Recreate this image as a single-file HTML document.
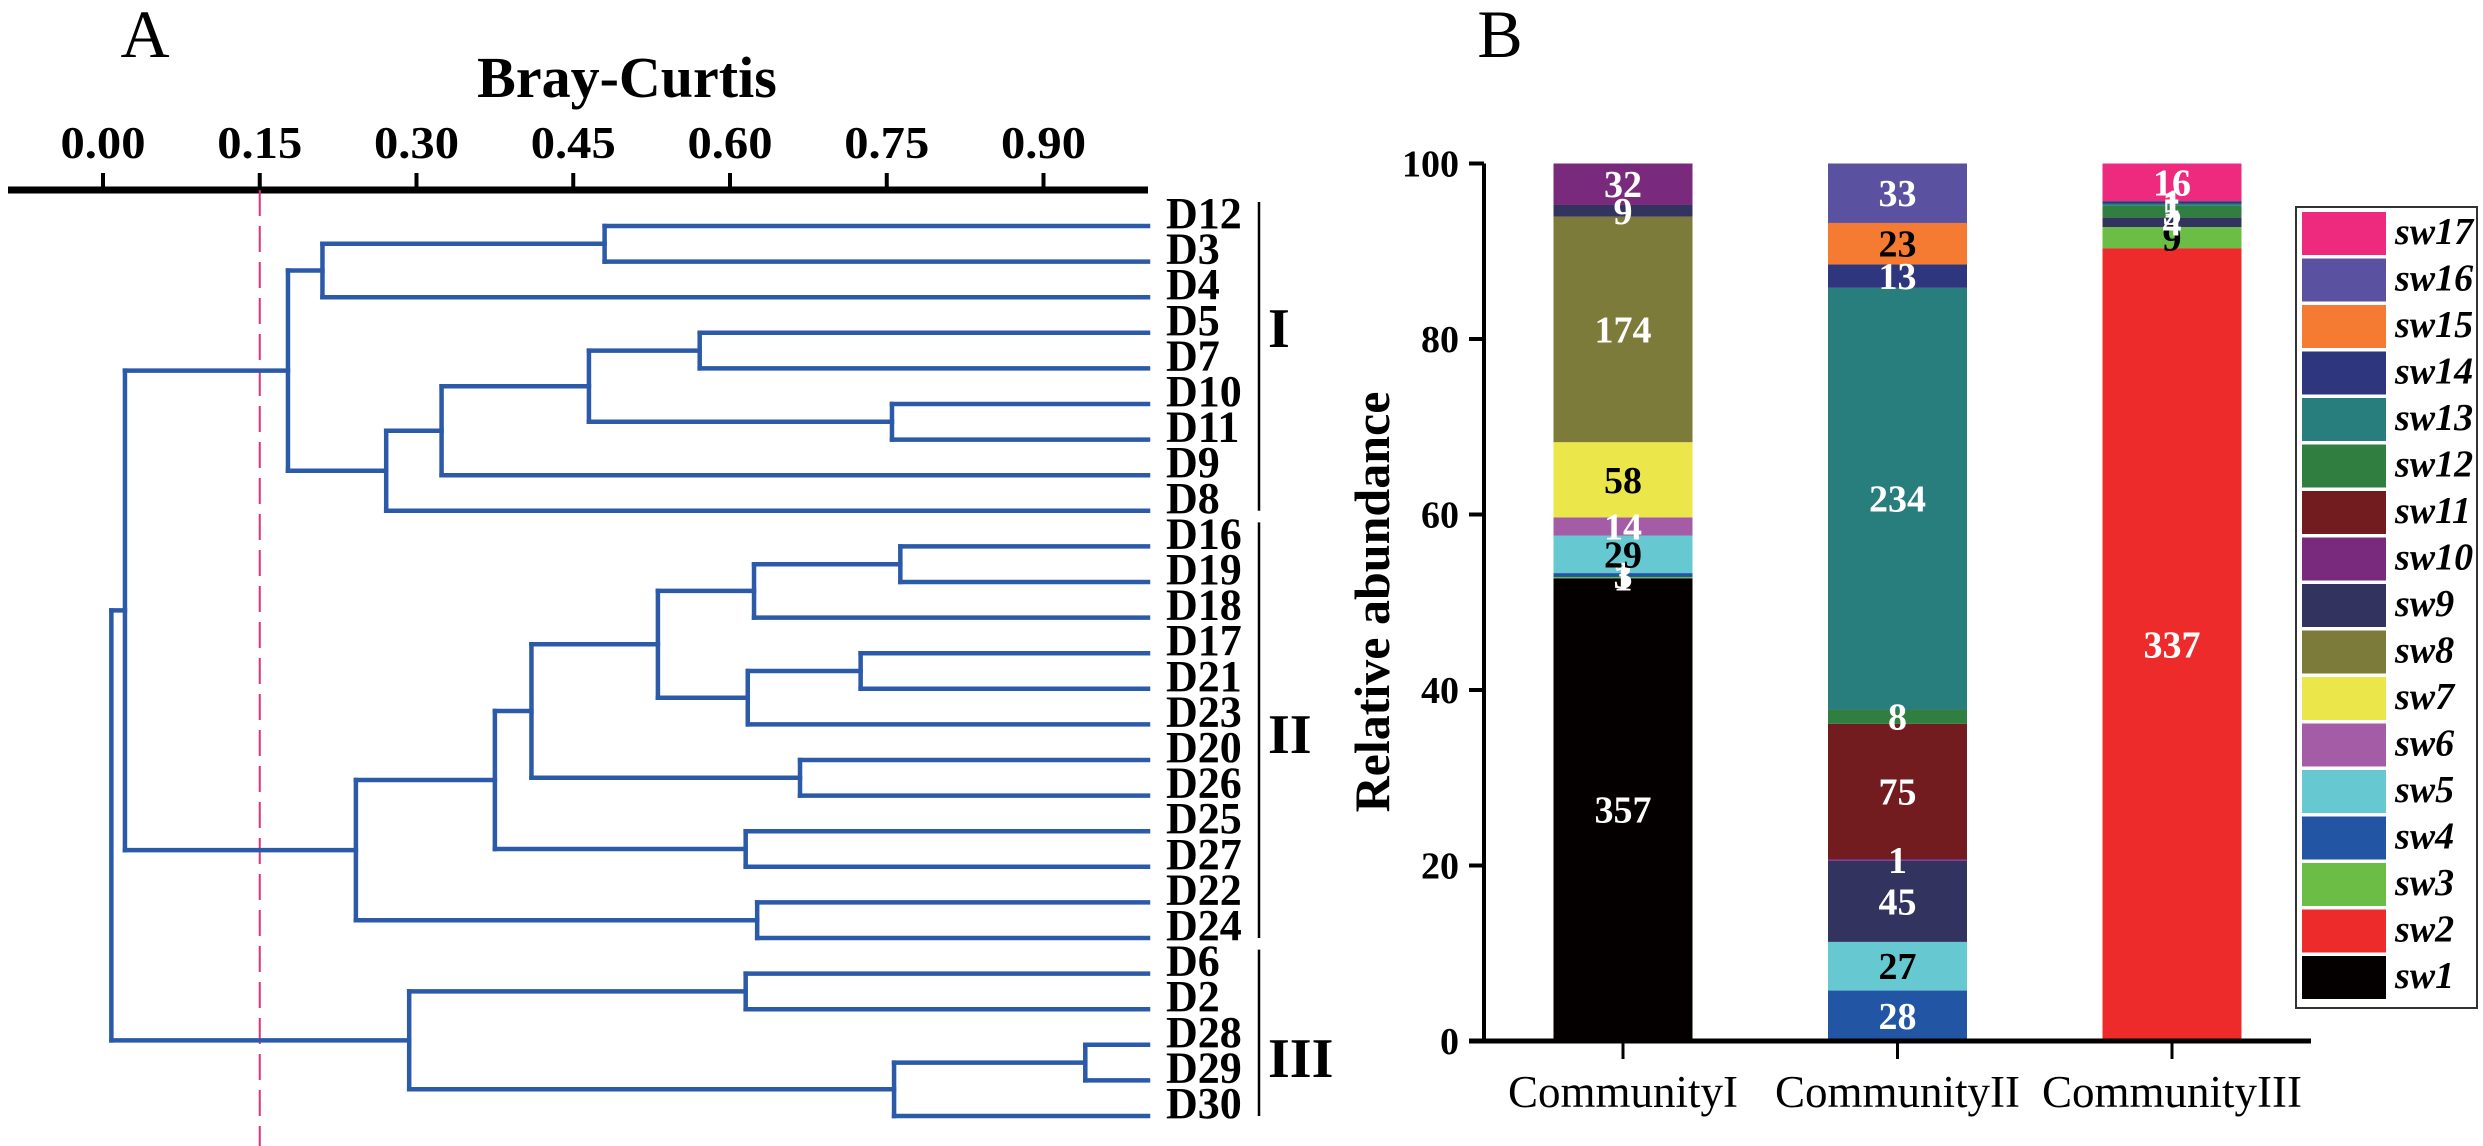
<!DOCTYPE html>
<html><head><meta charset="utf-8"><style>
html,body{margin:0;padding:0;background:#fff;}
svg{display:block;}
text{font-family:"Liberation Serif",serif;}
</style></head><body>
<svg id="fig" width="2483" height="1146" viewBox="0 0 2483 1146" xmlns="http://www.w3.org/2000/svg">
<rect width="2483" height="1146" fill="#fff"/>
<text x="145" y="57" font-size="68" text-anchor="middle">A</text>
<text x="1500" y="57" font-size="68" text-anchor="middle">B</text>
<text x="627" y="97" font-size="58" font-weight="bold" text-anchor="middle">Bray-Curtis</text>
<g id="dendro"></g>
<g id="bars"></g>
</svg>
<script>
// ---------- Dendrogram data ----------
const leaves = ["D12","D3","D4","D5","D7","D10","D11","D9","D8","D16","D19","D18","D17","D21","D23","D20","D26","D25","D27","D22","D24","D6","D2","D28","D29","D30"];
const mergeA = [0,26,3,5,28,30,31,27,9,34,12,36,35,15,38,17,40,19,42,33,21,23,47,46,45];
const mergeB = [1,2,4,6,29,7,8,32,10,11,13,14,37,16,39,18,41,20,43,44,22,24,25,48,49];
const mergeH = [0.48,0.21,0.571,0.755,0.465,0.324,0.271,0.177,0.763,0.623,0.725,0.617,0.531,0.667,0.41,0.615,0.375,0.626,0.242,0.021,0.615,0.94,0.757,0.293,0.008];
const bcTicks = [0,0.15,0.30,0.45,0.60,0.75,0.90];
const cutoff = 0.15;
const groupNames = ["I","II","III"];
const groupFirst = [0,9,21];
const groupLast = [8,20,25];
const groupLabelLeaf = [3.4,14.8,23.9];

// ---------- Bar chart data ----------
const categories = ["CommunityI","CommunityII","CommunityIII"];
const species = ["sw1","sw2","sw3","sw4","sw5","sw6","sw7","sw8","sw9","sw10","sw11","sw12","sw13","sw14","sw15","sw16","sw17"];
const countsI   = [357,0,1,3,29,14,58,174,9,32,0,0,0,0,0,0,0];
const countsII  = [0,0,0,28,27,0,0,0,45,1,75,8,234,13,23,33,0];
const countsIII = [0,337,9,0,0,0,0,0,4,0,0,5,1,1,0,0,16];
const yTicks = [0,20,40,60,80,100];

const colors = ["#050000","#ec2b2a","#6bbd46","#2355a5","#66c9d2","#a55ca6","#ebe74a","#7c7b39","#333360","#7a2a7c","#721c20","#317e41","#287d7d","#2e367d","#f47b31","#5a51a0","#ee2a7f"];
const darkLabel = {"CommunityI":["sw7","sw5"],"CommunityII":["sw15","sw5"],"CommunityIII":["sw3"]};

const NS="http://www.w3.org/2000/svg";
function mk(tag, attrs, parent){const e=document.createElementNS(NS,tag);for(const k in attrs)e.setAttribute(k,attrs[k]);parent.appendChild(e);return e;}

// ---------- draw dendrogram ----------
const dg=document.getElementById('dendro');
const bx = v => 103 + v*1045;
const leafY = i => 226 + i*35.6;
let e=mk('line',{x1:8,y1:190,x2:1148,y2:190,stroke:"#000","stroke-width":7},dg);


bcTicks.forEach(t=>{
  let l=mk('line',{x1:bx(t),y1:173,x2:bx(t),y2:190,stroke:"#000","stroke-width":4},dg);
  
  
  let tx=mk('text',{x:bx(t),y:158,"font-size":46,"font-weight":"bold","text-anchor":"middle",textLength:85,lengthAdjust:"spacingAndGlyphs"},dg);
  tx.textContent=t.toFixed(2);
  
  
});
e=mk('line',{x1:bx(cutoff),y1:190,x2:bx(cutoff),y2:1146,stroke:"#e0307e","stroke-width":2,"stroke-dasharray":"26 10"},dg);


const nodeY=[],nodeH=[];
leaves.forEach((n,i)=>{nodeY[i]=leafY(i);nodeH[i]=1.0;});
const blue="#2b5aa8";
mergeH.forEach((h,k)=>{
  const a=mergeA[k],b=mergeB[k],id=leaves.length+k;
  nodeY[id]=(nodeY[a]+nodeY[b])/2;nodeH[id]=h;
  [a,b].forEach(c=>{
    let l=mk('line',{x1:bx(h),y1:nodeY[c],x2:bx(nodeH[c]),y2:nodeY[c],stroke:blue,"stroke-width":4.5,"stroke-linecap":"square"},dg);
    
    
  });
  let v=mk('line',{x1:bx(h),y1:nodeY[a],x2:bx(h),y2:nodeY[b],stroke:blue,"stroke-width":4.5,"stroke-linecap":"square"},dg);
  
  
});
leaves.forEach((n,i)=>{
  let t=mk('text',{x:1166,y:leafY(i)+2,"font-size":44,"font-weight":"bold"},dg);
  t.textContent=n;
  
  
});
groupNames.forEach((g,i)=>{
  const y1=leafY(groupFirst[i])-24,y2=leafY(groupLast[i])+0;
  let l=mk('line',{x1:1259,y1:y1,x2:1259,y2:y2,stroke:"#000","stroke-width":2.5},dg);
  
  
  let t=mk('text',{x:1268,y:leafY(groupLabelLeaf[i]),"font-size":56,"font-weight":"bold"},dg);
  t.textContent=g;
  
  
});

// ---------- draw stacked bars ----------
const bg=document.getElementById('bars');
const y0=1041, pxPer=8.775;
const sy = p => y0 - p*pxPer;
const cx = i => 1623 + i*274.5;
const barW=139;
const allCounts=[countsI,countsII,countsIII];
categories.forEach((cat,ci)=>{
  const cnt=allCounts[ci];
  const tot=cnt.reduce((s,v)=>s+v,0);
  let acc=0;
  const labels=[];
  species.forEach((sp,si)=>{
    const v=cnt[si]; if(!v) return;
    const p0=acc/tot*100, p1=(acc+v)/tot*100; acc+=v;
    let r=mk('rect',{x:cx(ci)-barW/2,y:sy(p1),width:barW,height:sy(p0)-sy(p1),fill:colors[si]},bg);
    
    
    labels.push([sp,v,(sy(p0)+sy(p1))/2]);
  });
  labels.forEach(([sp,v,y])=>{
    const dark=darkLabel[cat].indexOf(sp)>=0;
    let t=mk('text',{x:cx(ci),y:y+13,"font-size":38,"font-weight":"bold","text-anchor":"middle",fill:dark?"#000":"#fff"},bg);
    t.textContent=v;
    
    
  });
  let tk=mk('line',{x1:cx(ci),y1:y0,x2:cx(ci),y2:y0+18,stroke:"#000","stroke-width":3},bg);
  
  
  let ct=mk('text',{x:cx(ci),y:1107,"font-size":45,"text-anchor":"middle"},bg);
  ct.textContent=cat;
  
  
});
e=mk('line',{x1:1484,y1:sy(100),x2:1484,y2:y0+2,stroke:"#000","stroke-width":4},bg);


e=mk('line',{x1:1469,y1:y0,x2:2311,y2:y0,stroke:"#000","stroke-width":5},bg);


yTicks.forEach(t=>{
  let l=mk('line',{x1:1469,y1:sy(t),x2:1484,y2:sy(t),stroke:"#000","stroke-width":4},bg);
  
  
  let tx=mk('text',{x:1459,y:sy(t)+13,"font-size":38,"font-weight":"bold","text-anchor":"end"},bg);
  tx.textContent=t;
  
  
});
let yt=mk('text',{x:0,y:0,"font-size":50,"font-weight":"bold","text-anchor":"middle",transform:"translate(1389,602) rotate(-90)"},bg);
yt.textContent="Relative abundance";


let lb=mk('rect',{x:2296,y:207,width:181,height:801,fill:"#fff",stroke:"#333","stroke-width":2},bg);


for(let k=0;k<species.length;k++){
  const si=species.length-1-k;
  const y=212+k*46.5;
  let s=mk('rect',{x:2302,y:y,width:84,height:43,fill:colors[si]},bg);
  
  
  let t=mk('text',{x:2395,y:y+32,"font-size":38,"font-weight":"bold","font-style":"italic"},bg);
  t.textContent=species[si];
  
  
}
</script>
</body></html>
